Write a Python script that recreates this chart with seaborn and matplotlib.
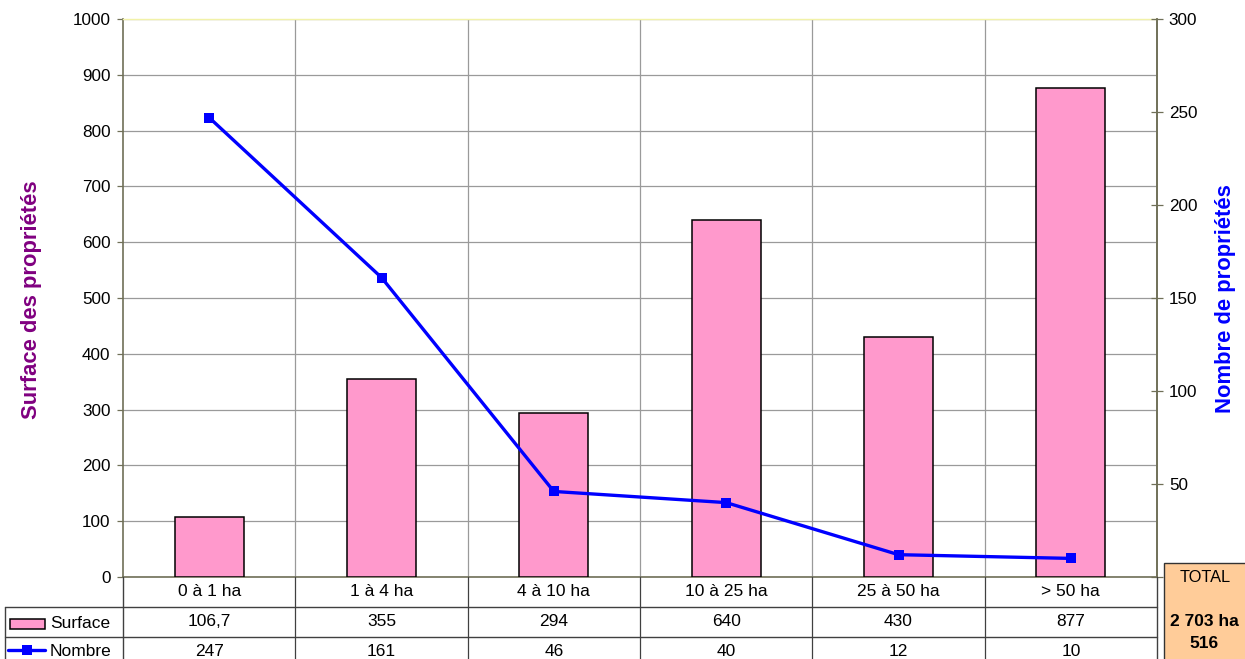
import numpy as np
import pandas as pd
import matplotlib
matplotlib.use("Agg")
import matplotlib.pyplot as plt
import matplotlib.transforms as mtransforms
from matplotlib.lines import Line2D
from matplotlib.patches import Rectangle
import seaborn as sns

# Size classes of the properties and their values
categories = ["0 à 1 ha", "1 à 4 ha", "4 à 10 ha", "10 à 25 ha", "25 à 50 ha", "> 50 ha"]
surface = [106.7, 355, 294, 640, 430, 877]
nombre = [247, 161, 46, 40, 12, 10]
surface_labels = ["106,7", "355", "294", "640", "430", "877"]
nombre_labels = ["247", "161", "46", "40", "12", "10"]
total_lines = ["TOTAL", "2 703 ha", "516"]

PINK = "#ff99cc"
BLUE = "#0000ff"
PURPLE = "#800080"
SPINE = "#707058"
GRID = "#9a9a9a"
TABLE = "#404040"

sns.set_theme(style="white")
plt.rcParams["font.family"] = ["Liberation Sans", "DejaVu Sans"]
plt.rcParams["text.color"] = "black"
plt.rcParams["ytick.labelcolor"] = "black"

W, H = 1245, 659
fig = plt.figure(figsize=(W / 100, H / 100), dpi=100)
fig.patch.set_facecolor("white")


def fx(px):
    return px / W


def fy(py):
    return 1 - py / H


ax = fig.add_axes([fx(123), fy(577), fx(1157) - fx(123), fy(19) - fy(577)])

df = pd.DataFrame({"Classe": categories, "Surface": surface, "Nombre": nombre})
sns.barplot(data=df, x="Classe", y="Surface", order=categories, color=PINK,
            saturation=1, width=0.4, edgecolor="black", linewidth=1.1,
            ax=ax, zorder=3)

n = len(categories)
ax.set_xlim(-0.5, n - 0.5)
ax.set_ylim(0, 1000)
ax.set_yticks(np.arange(0, 1001, 100))
ax.set_xticks([])
ax.set_xlabel("")
ax.set_ylabel("")
ax.set_axisbelow(True)
ax.yaxis.grid(True, color=GRID, linewidth=0.9)
for b in np.arange(n - 1) + 0.5:
    ax.axvline(b, color=GRID, linewidth=0.9, zorder=1)

ax.tick_params(axis="y", direction="out", length=4, width=0.9, color=SPINE,
               labelsize=12.3, labelcolor="black", pad=5, left=True)
for side in ("left", "right"):
    ax.spines[side].set_color(SPINE)
    ax.spines[side].set_linewidth(1.2)
ax.spines["top"].set_color("#f2f2a8")
ax.spines["top"].set_linewidth(1.0)
ax.spines["bottom"].set_color(SPINE)
ax.spines["bottom"].set_linewidth(1.2)

# Number of properties on the secondary axis
ax2 = ax.twinx()
sns.lineplot(x=np.arange(n), y=nombre, ax=ax2, color=BLUE, linewidth=2.4,
             marker="s", markersize=7.2, markeredgewidth=0, zorder=5)
ax2.set_ylim(0, 300)
ax2.set_yticks(np.arange(0, 301, 50))
ax2.set_xlim(-0.5, n - 0.5)
ax2.set_ylabel("")
ax2.tick_params(axis="y", direction="inout", length=9, width=0.9, color=SPINE,
                labelsize=12.3, labelcolor="black", pad=4, right=True)
ax2.spines["right"].set_color(SPINE)
ax2.spines["right"].set_linewidth(1.2)
ax2.spines["left"].set_visible(False)
ax2.spines["top"].set_visible(False)
ax2.spines["bottom"].set_visible(False)

fig.text(fx(32), fy(300), "Surface des propriétés", rotation=90, color=PURPLE,
         fontsize=15.8, fontweight="bold", ha="center", va="center")
fig.text(fx(1226), fy(299), "Nombre de propriétés", rotation=90, color=BLUE,
         fontsize=15.8, fontweight="bold", ha="center", va="center")

# Data table under the plot
blend = mtransforms.blended_transform_factory(ax.transData, fig.transFigure)
for b in np.arange(n - 1) + 0.5:
    fig.add_artist(Line2D([b, b], [fy(577), fy(H + 5)], transform=blend,
                          color=TABLE, linewidth=0.9))
for b in (-0.5, n - 0.5):
    fig.add_artist(Line2D([b, b], [fy(577), fy(H + 5)], transform=blend,
                          color=TABLE, linewidth=1.0))
for py in (607, 637):
    fig.add_artist(Line2D([fx(5), fx(1157)], [fy(py), fy(py)],
                          transform=fig.transFigure, color=TABLE, linewidth=1.0))
fig.add_artist(Line2D([fx(5), fx(5)], [fy(607), fy(H + 5)],
                      transform=fig.transFigure, color=TABLE, linewidth=1.0))

for i, cat in enumerate(categories):
    fig.text(i, fy(592), cat, transform=blend, ha="center", va="center",
             fontsize=12.5)
    fig.text(i, fy(622), surface_labels[i], transform=blend, ha="center",
             va="center", fontsize=12.5)
    fig.text(i, fy(651), nombre_labels[i], transform=blend, ha="center",
             va="center", fontsize=12.5)

# Legend keys inside the table
fig.add_artist(Rectangle((fx(10), fy(629)), fx(45) - fx(10), fy(619) - fy(629),
                         transform=fig.transFigure, facecolor=PINK,
                         edgecolor="black", linewidth=1.1))
fig.text(fx(50), fy(623), "Surface", ha="left", va="center", fontsize=12.5)
fig.add_artist(Line2D([fx(8), fx(45)], [fy(650), fy(650)],
                      transform=fig.transFigure, color=BLUE, linewidth=2.4))
fig.add_artist(Line2D([fx(27)], [fy(650)], transform=fig.transFigure,
                      color=BLUE, marker="s", markersize=7.2, markeredgewidth=0))
fig.text(fx(50), fy(652), "Nombre", ha="left", va="center", fontsize=12.5)

# Totals box
box = Rectangle((fx(1164), fy(H + 10)), fx(1260) - fx(1164), fy(563) - fy(H + 10),
                transform=fig.transFigure, facecolor="#ffcc99",
                edgecolor="#333333", linewidth=1.0, zorder=10)
fig.add_artist(box)
fig.text(fx(1205), fy(577), total_lines[0], ha="center", va="center",
         fontsize=11.8, zorder=11)
fig.text(fx(1204), fy(621), total_lines[1], ha="center", va="center",
         fontsize=12.5, fontweight="bold", zorder=11)
fig.text(fx(1204), fy(644), total_lines[2], ha="center", va="center",
         fontsize=12.5, fontweight="bold", zorder=11)

fig.savefig("out.png", dpi=100)
